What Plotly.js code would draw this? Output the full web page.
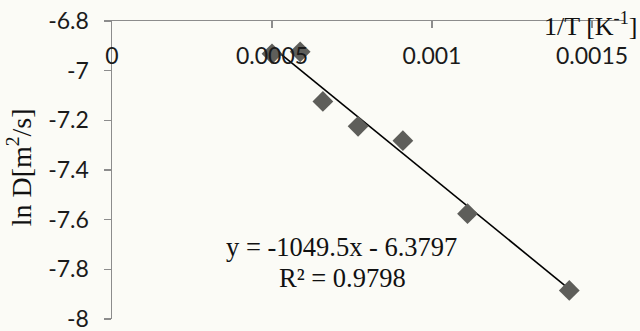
<!DOCTYPE html>
<html>
<head>
<meta charset="utf-8">
<script src="https://cdn.plot.ly/plotly-3.0.1.min.js"></script>
<style>
html,body{margin:0;padding:0;background:#fbfbf6;}
#chart{width:640px;height:331px;}
</style>
</head>
<body>
<div id="chart"></div>
<script>
// Data
const invT = [0.0005, 0.000588, 0.000659, 0.000769, 0.000909, 0.001111, 0.001429];
const lnD  = [-6.932, -6.924, -7.124, -7.224, -7.282, -7.576, -7.885];
// Linear trendline shown on the chart
const slope = -1049.5;
const intercept = -6.3797;
const r2 = 0.9798;
const xTicks = [0, 0.0005, 0.001, 0.0015];
const xTickText = ['0', '0.0005', '0.001', '0.0015'];
const yTicks = [-8, -7.8, -7.6, -7.4, -7.2, -7, -6.8];
const yTickText = ['-8', '-7.8', '-7.6', '-7.4', '-7.2', '-7', '-6.8'];

const xmin = Math.min(...invT), xmax = Math.max(...invT);
const trendX = [xmin, xmax];
const trendY = trendX.map(v => slope * v + intercept);

const traces = [
  {
    x: trendX, y: trendY, type: 'scatter', mode: 'lines',
    line: {color: '#000000', width: 1.6},
    hoverinfo: 'skip', showlegend: false
  },
  {
    x: invT, y: lnD, type: 'scatter', mode: 'markers',
    marker: {symbol: 'diamond', size: 16, color: '#5e5e5a', line: {width: 0}},
    showlegend: false
  }
];

const tickFont = {family: 'Lato, "Liberation Sans", sans-serif', size: 23, color: '#1a1a1a'};
const serif = '"Liberation Serif", "DejaVu Serif", serif';

const layout = {
  width: 640, height: 331,
  margin: {l: 112, r: 16, t: 21, b: 12},
  paper_bgcolor: '#fbfbf6',
  plot_bgcolor: 'rgba(0,0,0,0)',
  showlegend: false,
  xaxis: {
    range: [0, 0.0016],
    side: 'top',
    showgrid: false, zeroline: false,
    showline: true, linecolor: '#8c8c8c', linewidth: 1.5,
    ticks: 'inside', ticklen: 7, tickcolor: '#8c8c8c', tickwidth: 1.5,
    tickvals: xTicks, ticktext: xTickText,
    ticklabelposition: 'inside', ticklabelstandoff: 22,
    ticklabeloverflow: 'allow',
    tickfont: tickFont,
    fixedrange: true
  },
  yaxis: {
    range: [-8, -6.8],
    showgrid: false, zeroline: false,
    showline: true, linecolor: '#8c8c8c', linewidth: 1.5,
    ticks: 'outside', ticklen: 7, tickcolor: '#8c8c8c', tickwidth: 1.5,
    tickvals: yTicks, ticktext: yTickText,
    ticklabelstandoff: 10,
    ticklabeloverflow: 'allow',
    tickfont: tickFont,
    fixedrange: true
  },
  annotations: [
    {
      xref: 'paper', yref: 'paper', x: 0.449, y: 0.24,
      xanchor: 'center', yanchor: 'middle', showarrow: false, align: 'center',
      text: 'y = ' + slope + 'x - ' + Math.abs(intercept),
      font: {family: serif, size: 26.5, color: '#111111'}
    },
    {
      xref: 'paper', yref: 'paper', x: 0.451, y: 0.139,
      xanchor: 'center', yanchor: 'middle', showarrow: false, align: 'center',
      text: 'R² = ' + r2,
      font: {family: serif, size: 26.5, color: '#111111'}
    },
    {
      xref: 'paper', yref: 'paper', x: 1.03, y: 0.987,
      xanchor: 'right', yanchor: 'middle', showarrow: false,
      text: '1/T [K<sup>-1</sup>]',
      font: {family: serif, size: 26, color: '#111111'}
    },
    {
      xref: 'paper', yref: 'paper', x: -0.181, y: 0.51,
      xanchor: 'center', yanchor: 'middle', showarrow: false, textangle: -90,
      text: 'ln D[m<sup>2</sup>/s]',
      font: {family: serif, size: 28, color: '#111111'}
    }
  ]
};

Plotly.newPlot('chart', traces, layout, {displayModeBar: false, staticPlot: true});
</script>
</body>
</html>
